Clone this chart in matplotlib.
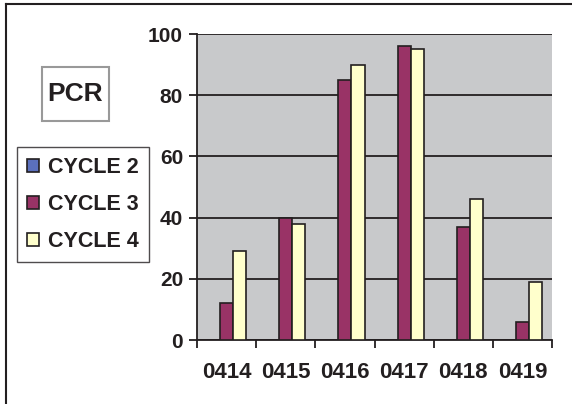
import matplotlib.pyplot as plt
import numpy as np
from matplotlib.patches import Rectangle

plt.rcParams['font.family'] = ['Liberation Sans', 'DejaVu Sans']
plt.rcParams['font.weight'] = 'bold'

categories = ['0414', '0415', '0416', '0417', '0418', '0419']
series_names = ['CYCLE 2', 'CYCLE 3', 'CYCLE 4']
cycle2 = [0, 0, 0, 0, 0, 0]
cycle3 = [12, 40, 85, 96, 37, 6]
cycle4 = [29, 38, 90, 95, 46, 19]
colors = ['#5B70BD', '#993366', '#FFFFCC']
text_color = '#231F20'

fig = plt.figure(figsize=(5.72, 4.04), dpi=100)
fig.patch.set_facecolor('white')

# outer frame (only left and top are visible in the crop)
fig.add_artist(plt.Line2D([6 / 572, 6 / 572], [0, 1 - 4 / 404], color='#231F20', lw=1.5,
                          transform=fig.transFigure))
fig.add_artist(plt.Line2D([6 / 572, 1], [1 - 4 / 404, 1 - 4 / 404], color='#231F20', lw=1.5,
                          transform=fig.transFigure))

ax = fig.add_axes([197 / 572, 1 - 340 / 404, (552 - 197) / 572, (340 - 34) / 404])
ax.set_facecolor('#C8C9CB')

x = np.arange(len(categories))
w = 1 / 4.5
bars = []
for i, vals in enumerate([cycle2, cycle3, cycle4]):
    b = ax.bar(x + (i - 1) * w, vals, w, color=colors[i], edgecolor='#231F20',
               linewidth=1.2, label=series_names[i], zorder=3)
    bars.append(b)

ax.set_xlim(-0.5, len(categories) - 0.5)
ax.set_ylim(0, 100)
ax.set_yticks([0, 20, 40, 60, 80, 100])
ax.yaxis.grid(True, color='#231F20', lw=1.3)
ax.set_axisbelow(True)

ax.set_xticks(x)
ax.set_xticklabels(categories)
ax.set_xticks(np.arange(len(categories) + 1) - 0.5, minor=True)
ax.tick_params(axis='x', which='major', length=0, pad=16, labelsize=16, colors=text_color)
ax.tick_params(axis='x', which='minor', length=6, width=1.3, direction='out', color='#231F20')
ax.tick_params(axis='y', length=6, width=1.3, direction='out', pad=4, labelsize=15,
               colors=text_color)
for lab in ax.get_xticklabels() + ax.get_yticklabels():
    lab.set_fontweight('bold')

for s in ['top', 'right']:
    ax.spines[s].set_visible(False)
for s in ['left', 'bottom']:
    ax.spines[s].set_color('#231F20')
    ax.spines[s].set_linewidth(1.3)

# title box
fig.add_artist(Rectangle((42 / 572, 1 - 121 / 404), 67 / 572, 54 / 404, transform=fig.transFigure,
                         facecolor='white', edgecolor='#999999', lw=1.5))
fig.text(75.5 / 572, 1 - 94 / 404, 'PCR', ha='center', va='center', fontsize=19,
         fontweight='bold', color=text_color)

leg = fig.legend(handles=bars, labels=series_names, loc='upper left',
                 bbox_to_anchor=(17 / 572, 1 - 147 / 404), frameon=True, fancybox=False,
                 edgecolor='#231F20', fontsize=15.5, handlelength=0.55, handleheight=0.55,
                 handletextpad=0.45, labelspacing=0.75, borderpad=0.45, borderaxespad=0)
leg.get_frame().set_linewidth(1.0)
for t in leg.get_texts():
    t.set_color(text_color)
    t.set_fontweight('bold')

fig.savefig('out.png', dpi=100)
